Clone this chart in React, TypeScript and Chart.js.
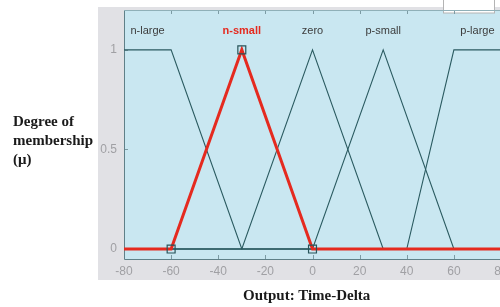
import React, { useEffect, useRef } from "react";
import { Chart, registerables } from "chart.js";

Chart.register(...registerables);

// Membership functions (x breakpoints, membership values)
const mfNames = ["n-large", "n-small", "zero", "p-small", "p-large"];
const nLargeX = [-80, -60, -30, 80];
const nLargeY = [1, 1, 0, 0];
const nSmallX = [-80, -60, -30, 0, 80];
const nSmallY = [0, 0, 1, 0, 0];
const zeroX = [-80, -30, 0, 30, 80];
const zeroY = [0, 0, 1, 0, 0];
const pSmallX = [-80, 0, 30, 60, 80];
const pSmallY = [0, 0, 1, 0, 0];
const pLargeX = [-80, 40, 60, 80];
const pLargeY = [0, 0, 1, 1];
const selectedIndex = 1; // n-small highlighted
const xTicks = [-80, -60, -40, -20, 0, 20, 40, 60, 80];
const yTicks = [0, 0.5, 1];

const mfX = [nLargeX, nSmallX, zeroX, pSmallX, pLargeX];
const mfY = [nLargeY, nSmallY, zeroY, pSmallY, pLargeY];

const DARK = "#2a5a60";
const RED = "#e52a1f";
const PLOT_BG = "#c9e7f1";
const PANEL_BG = "#e1e1e5";

function toPoints(xs: number[], ys: number[]) {
  return xs.map((x, i) => ({ x, y: ys[i] }));
}

function labelCenter(xs: number[], ys: number[]) {
  const peaks = xs.filter((_, i) => ys[i] === 1);
  return peaks.reduce((a, b) => a + b, 0) / peaks.length;
}

const framePlugin = {
  id: "framePlugin",
  beforeDraw(chart: any) {
    const { ctx, chartArea: a, width, height } = chart;
    ctx.save();
    ctx.fillStyle = "#ffffff";
    ctx.fillRect(0, 0, width, height);
    ctx.fillStyle = PANEL_BG;
    ctx.fillRect(98, 7, width - 98, 280 - 7);
    ctx.fillStyle = PLOT_BG;
    ctx.fillRect(a.left, a.top, a.right - a.left, a.bottom - a.top);
    // white box at top right
    ctx.fillStyle = "#ffffff";
    ctx.fillRect(443, -1, 51, 14);
    ctx.strokeStyle = "#b4b4b4";
    ctx.lineWidth = 1;
    ctx.strokeRect(443.5, -1, 51, 14);
    ctx.restore();
  },
  beforeDatasetsDraw(chart: any) {
    const { ctx, chartArea: a, scales } = chart;
    ctx.save();
    ctx.strokeStyle = "#7c9ba4";
    ctx.lineWidth = 1;
    ctx.beginPath();
    xTicks.forEach((t) => {
      const px = Math.round(scales.x.getPixelForValue(t)) + 0.5;
      ctx.moveTo(px, a.top);
      ctx.lineTo(px, a.top + 4);
      ctx.moveTo(px, a.bottom);
      ctx.lineTo(px, a.bottom - 4);
    });
    yTicks.forEach((t) => {
      const py = Math.round(scales.y.getPixelForValue(t)) + 0.5;
      ctx.moveTo(a.left, py);
      ctx.lineTo(a.left + 4, py);
    });
    ctx.stroke();
    // frame
    ctx.strokeStyle = "#5f8088";
    ctx.beginPath();
    ctx.moveTo(a.left + 0.5, a.top + 0.5);
    ctx.lineTo(a.left + 0.5, a.bottom + 0.5);
    ctx.lineTo(a.right, a.bottom + 0.5);
    ctx.stroke();
    ctx.strokeStyle = "#8fb0b8";
    ctx.beginPath();
    ctx.moveTo(a.left, a.top + 0.5);
    ctx.lineTo(a.right, a.top + 0.5);
    ctx.stroke();
    ctx.restore();
  },
  afterDraw(chart: any) {
    const { ctx, scales } = chart;
    ctx.save();
    ctx.textAlign = "center";
    ctx.textBaseline = "middle";
    const py = scales.y.getPixelForValue(1) - 19;
    mfNames.forEach((name, i) => {
      const cx = scales.x.getPixelForValue(labelCenter(mfX[i], mfY[i]));
      if (i === selectedIndex) {
        ctx.fillStyle = RED;
        ctx.font = "bold 11px 'Liberation Sans', Arial, sans-serif";
      } else {
        ctx.fillStyle = "#3c3c3c";
        ctx.font = "11px 'Liberation Sans', Arial, sans-serif";
      }
      ctx.fillText(name, cx, py);
    });
    ctx.restore();
  },
};

export default function App() {
  const ref = useRef<HTMLCanvasElement | null>(null);

  useEffect(() => {
    if (!ref.current) return;
    const datasets: any[] = [];
    // selected first so it is drawn on top
    const selPts = toPoints(mfX[selectedIndex], mfY[selectedIndex]);
    datasets.push({
      label: mfNames[selectedIndex],
      data: selPts,
      borderColor: RED,
      borderWidth: 3,
      pointStyle: "rect",
      pointRadius: selPts.map((_, i) => (i === 0 || i === selPts.length - 1 ? 0 : 5.6)),
      pointBackgroundColor: "rgba(0,0,0,0)",
      pointBorderColor: "#27545a",
      pointBorderWidth: 1.2,
      tension: 0,
    });
    mfNames.forEach((name, i) => {
      if (i === selectedIndex) return;
      datasets.push({
        label: name,
        data: toPoints(mfX[i], mfY[i]),
        borderColor: DARK,
        borderWidth: 1.1,
        pointRadius: 0,
        tension: 0,
      });
    });

    const chart = new Chart(ref.current, {
      type: "line",
      data: { datasets },
      plugins: [framePlugin],
      options: {
        animation: false,
        responsive: false,
        events: [],
        layout: { padding: { left: 0, right: 19, top: 10, bottom: 0 } },
        plugins: { legend: { display: false }, tooltip: { enabled: false } },
        scales: {
          x: {
            type: "linear",
            min: -80,
            max: 80,
            afterFit: (s: any) => {
              s.height = 48;
              s.paddingLeft = 0;
              s.paddingRight = 0;
            },
            afterBuildTicks: (s: any) => {
              s.ticks = xTicks.map((v) => ({ value: v }));
            },
            grid: { display: false, drawTicks: false },
            border: { display: false },
            ticks: {
              autoSkip: false,
              maxRotation: 0,
              padding: 5,
              color: "#a0a0a4",
              font: { size: 12, family: "'Liberation Sans', Arial, sans-serif" },
              callback: (v: any) => String(v),
            },
          },
          y: {
            type: "linear",
            min: -0.05,
            max: 1.2,
            afterFit: (s: any) => {
              s.width = 124;
              s.paddingTop = 0;
              s.paddingBottom = 0;
            },
            afterBuildTicks: (s: any) => {
              s.ticks = yTicks.map((v) => ({ value: v }));
            },
            grid: { display: false, drawTicks: false },
            border: { display: false },
            ticks: {
              padding: 7,
              color: "#a0a0a4",
              font: { size: 12, family: "'Liberation Sans', Arial, sans-serif" },
              callback: (v: any) => String(v),
            },
          },
        },
      } as any,
    });
    return () => chart.destroy();
  }, []);

  const serif = "'Liberation Serif', 'Times New Roman', serif";
  return (
    <div
      style={{
        position: "absolute",
        left: 0,
        top: 0,
        width: 500,
        height: 307,
        overflow: "hidden",
        background: "#fff",
      }}
    >
      <canvas ref={ref} width={520} height={307} style={{ display: "block", width: 520, height: 307 }} />
      <div
        style={{
          position: "absolute",
          left: 13,
          top: 112,
          fontFamily: serif,
          fontWeight: "bold",
          fontSize: 15,
          lineHeight: "19px",
          color: "#1a1a1a",
        }}
      >
        Degree of
        <br />
        membership
        <br />
        (μ)
      </div>
      <div
        style={{
          position: "absolute",
          left: 243,
          top: 286,
          fontFamily: serif,
          fontWeight: "bold",
          fontSize: 15,
          lineHeight: "19px",
          color: "#1a1a1a",
          whiteSpace: "nowrap",
        }}
      >
        Output: Time-Delta
      </div>
    </div>
  );
}
